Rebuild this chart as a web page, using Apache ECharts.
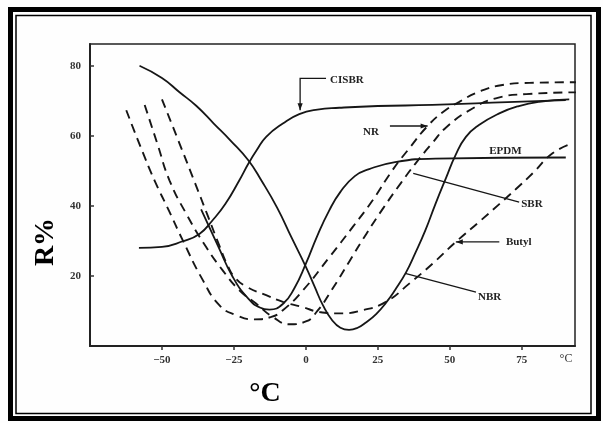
<!DOCTYPE html>
<html>
<head>
<meta charset="utf-8">
<script src="https://cdn.jsdelivr.net/npm/echarts@6/dist/echarts.min.js"></script>
<style>
  html, body { margin: 0; padding: 0; background: #fff; }
  #chart { width: 603px; height: 423px; }
</style>
</head>
<body>
<div id="chart"></div>
<script>
// tick values
const xTicks = [-50, -25, 0, 25, 50, 75];
const yTicks = [20, 40, 60, 80];

// solid curves  [°C, R%]
const cisbr = [[-58, 28], [-50, 28.3], [-42.8, 29.9], [-37, 32], [-32.4, 35.9], [-28, 40.5], [-23.1, 47.3],
  [-20, 52], [-17, 56], [-13.8, 59.7], [-8, 63.5], [-2.3, 66.2], [4, 67.5], [11.6, 68], [25, 68.5],
  [44, 68.8], [70, 69.6], [90.3, 70.2]];
const nbr = [[-57.8, 80], [-50, 76.5], [-44, 72.5], [-38, 68.5], [-32, 63.5], [-26, 58.5], [-20, 53],
  [-15.5, 47.3], [-10, 39.5], [-5, 31], [0, 22.6], [3, 17], [6, 11.5], [9, 7.5], [12, 5.2], [15, 4.6],
  [18, 5.2], [21, 6.8], [24.5, 9.2], [27.8, 12.3], [31, 16], [34.8, 21], [38, 26.5], [41.5, 33],
  [45, 40.5], [48.7, 48], [52, 54.5], [55.6, 59.7], [60, 63], [67.2, 66.4], [74, 68.5], [81, 69.7],
  [91.5, 70.4]];
const epdm = [[-36.4, 39], [-30.5, 28.5], [-25.4, 19.7], [-20, 13.5], [-16, 11], [-12.7, 10.4], [-8, 12],
  [-4, 16.5], [0, 23.5], [4, 31.5], [8, 38.5], [12, 44], [17, 48.5], [22, 50.5], [31, 52.5], [45, 53.5],
  [90.3, 53.8]];

// dashed curves
const nr = [[-62.4, 67.3], [-57.5, 57], [-52.6, 47.3], [-47.5, 38.5], [-42.8, 30.2], [-35.8, 18.8],
  [-30, 11.6], [-24.2, 8.8], [-18, 7.6], [-12, 8.3], [-8, 10.2], [-1, 15.9], [8.2, 25.4], [16.3, 34],
  [23.2, 41.6], [30.1, 50.2], [36, 56.5], [42.3, 62.8], [48, 67], [53.3, 69.7], [60.2, 72.6],
  [68.3, 74.5], [77.6, 75.1], [93.8, 75.3]];
const sbr = [[-56, 68.8], [-51.5, 57.5], [-47.4, 47.3], [-41.6, 37.8], [-34.7, 28.3], [-28.9, 21.6],
  [-23.1, 15.9], [-17.3, 12.1], [-11.5, 8.3], [-5.7, 6.2], [0, 7], [4, 10], [9, 16], [15, 24], [21, 32],
  [27, 39.5], [33, 46.5], [38, 52], [44, 58], [49, 62.6], [57.9, 67.8], [66, 70.7], [76.5, 71.9],
  [93.8, 72.4]];
const butyl = [[-50, 70.4], [-44, 58], [-38.5, 46.5], [-34, 37], [-30, 28.5], [-27.2, 23], [-24.8, 19.7],
  [-20.8, 17], [-13.8, 14.5], [-8, 12.6], [-1.1, 11.1], [4.7, 9.7], [11.6, 9.3], [19.7, 10.2],
  [27.8, 12.6], [35.9, 17.8], [44, 23.5], [52.1, 29.7], [60, 35.3], [67.2, 40.5], [73, 44.8],
  [78.8, 49.3], [85.7, 55], [92.6, 57.8]];

// annotation text positions and leader lines, in data coords
const labels = [
  { text: 'CISBR', at: [8.4, 75.9], align: 'left' },
  { text: 'NR', at: [22.6, 61.1], align: 'center' },
  { text: 'EPDM', at: [63.7, 55.6], align: 'left' },
  { text: 'SBR', at: [74.8, 40.6], align: 'left' },
  { text: 'Butyl', at: [69.5, 29.7], align: 'left' },
  { text: 'NBR', at: [59.8, 14], align: 'left' }
];
const leaders = [
  { pts: [[7, 76.4], [-2, 76.4], [-2, 67.3]], arrow: true },
  { pts: [[29.2, 62.8], [42.3, 62.8]], arrow: true },
  { pts: [[74.1, 41.1], [37.3, 49.3]], arrow: false },
  { pts: [[67.2, 29.7], [52.1, 29.7]], arrow: true },
  { pts: [[59.1, 15.4], [34.5, 20.7]], arrow: false }
];

const serif = '"Liberation Serif", "DejaVu Serif", serif';
const ink = '#161616';

let chart = echarts.init(document.getElementById('chart'));

let solid = (name, data) => ({
  type: 'line', name: name, data: data, smooth: 0.5,
  showSymbol: false, silent: true,
  lineStyle: { color: ink, width: 1.8 }
});
let dashed = (name, data) => ({
  type: 'line', name: name, data: data, smooth: 0.5,
  showSymbol: false, silent: true,
  lineStyle: { color: ink, width: 1.9, type: [9, 6] }
});

chart.setOption({
  animation: false,
  backgroundColor: '#fefefe',
  grid: { left: 90, right: 28, top: 44, bottom: 77, show: true, borderColor: '#222', borderWidth: 1.5 },
  xAxis: {
    type: 'value', min: -75, max: 93.5,
    axisLine: { show: true, onZero: false, lineStyle: { color: '#222', width: 2 } },
    axisTick: { show: true, customValues: xTicks, length: 4, lineStyle: { color: '#333', width: 1.5 } },
    axisLabel: {
      customValues: xTicks, margin: 9, color: '#333', fontFamily: serif, fontWeight: 'bold', fontSize: 11,
      formatter: (v) => v < 0 ? '\u2212' + Math.abs(v) : String(v)
    },
    splitLine: { show: false }
  },
  yAxis: {
    type: 'value', min: 0, max: 86.2,
    axisLine: { show: true, onZero: false, lineStyle: { color: '#222', width: 2 } },
    axisTick: { show: true, inside: true, customValues: yTicks, length: 4, lineStyle: { color: '#333', width: 1.5 } },
    axisLabel: { customValues: yTicks, margin: 9, color: '#333', fontFamily: serif, fontWeight: 'bold', fontSize: 11 },
    splitLine: { show: false }
  },
  series: [
    solid('CISBR', cisbr),
    solid('NBR', nbr),
    solid('EPDM', epdm),
    dashed('NR', nr),
    dashed('SBR', sbr),
    dashed('Butyl', butyl)
  ]
});

// frame, axis titles and the curve annotations
let px = (p) => chart.convertToPixel({ gridIndex: 0 }, p);
let graphics = [
  { type: 'rect', shape: { x: 10.5, y: 9.5, width: 588, height: 409 }, style: { fill: null, stroke: '#000', lineWidth: 5 } },
  { type: 'rect', shape: { x: 16, y: 15.5, width: 575, height: 398 }, style: { fill: null, stroke: '#000', lineWidth: 1.5 } },
  { type: 'text', x: 46, y: 242, rotation: Math.PI / 2,
    style: { text: 'R%', font: 'bold 28px ' + serif, fill: '#000', align: 'center', verticalAlign: 'middle' } },
  { type: 'text', x: 265, y: 394,
    style: { text: '°C', font: 'bold 28px ' + serif, fill: '#000', align: 'center', verticalAlign: 'middle' } },
  { type: 'text', x: 566, y: 359,
    style: { text: '°C', font: '12px ' + serif, fill: '#333', align: 'center', verticalAlign: 'middle' } }
];

labels.forEach((l) => {
  let p = px(l.at);
  graphics.push({ type: 'text', x: p[0], y: p[1],
    style: { text: l.text, font: 'bold 11px ' + serif, fill: '#222', align: l.align, verticalAlign: 'middle' } });
});

leaders.forEach((l) => {
  let pts = l.pts.map(px);
  graphics.push({ type: 'polyline', shape: { points: pts }, style: { stroke: ink, lineWidth: 1.3, fill: null } });
  if (l.arrow) {
    let a = pts[pts.length - 2], b = pts[pts.length - 1];
    let dx = b[0] - a[0], dy = b[1] - a[1], len = Math.sqrt(dx * dx + dy * dy);
    let ux = dx / len, uy = dy / len;
    let base = [b[0] - ux * 7, b[1] - uy * 7];
    graphics.push({ type: 'polygon', shape: { points: [
      b, [base[0] - uy * 2.6, base[1] + ux * 2.6], [base[0] + uy * 2.6, base[1] - ux * 2.6]
    ] }, style: { fill: ink } });
  }
});

chart.setOption({ graphic: graphics });
</script>
</body>
</html>
